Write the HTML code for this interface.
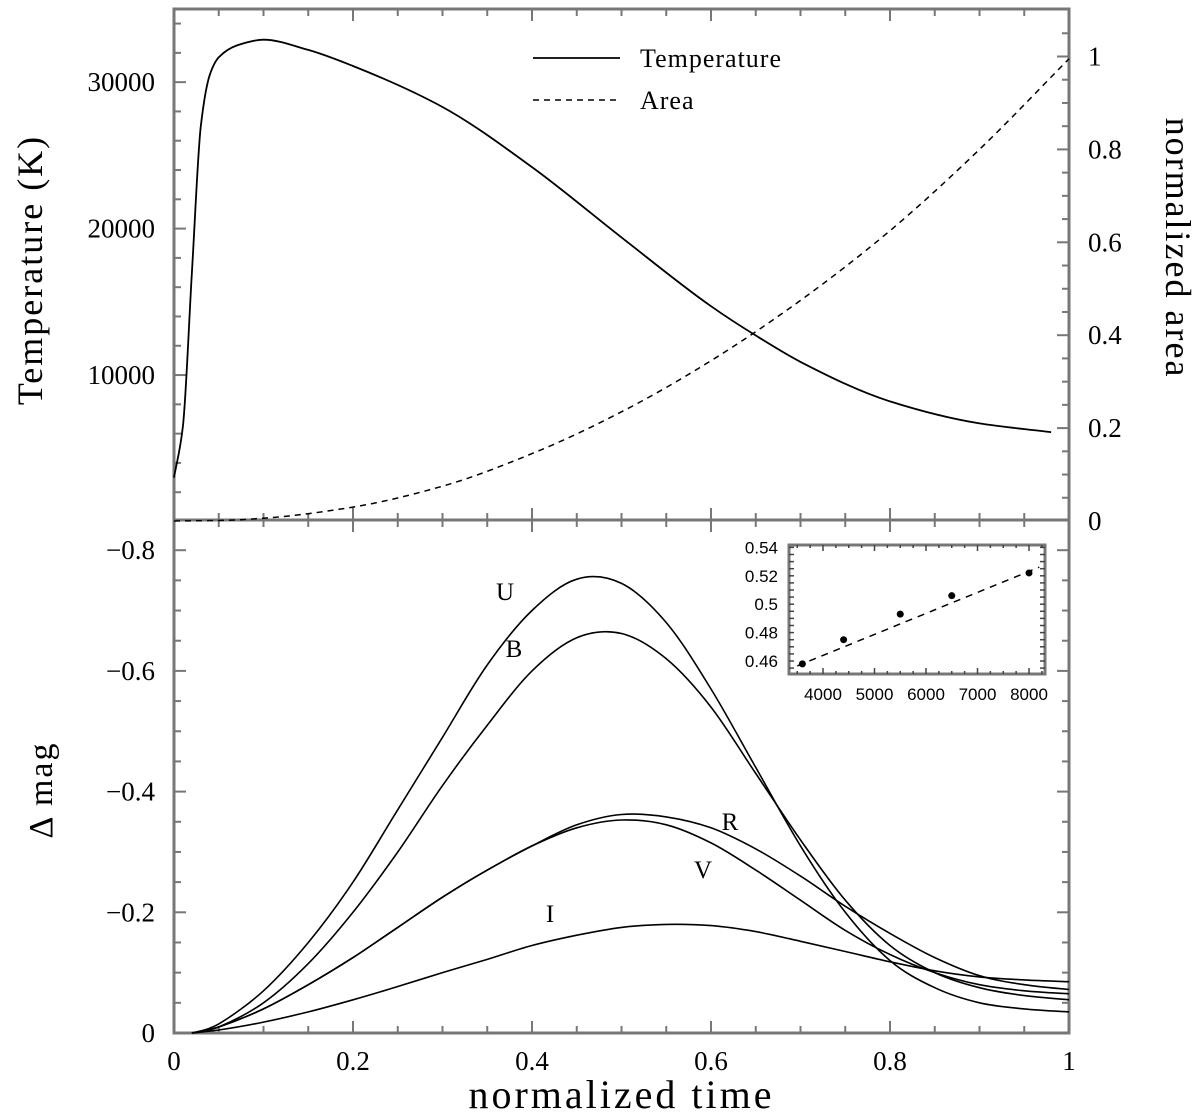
<!DOCTYPE html>
<html><head><meta charset="utf-8"><style>
html,body{margin:0;padding:0;background:#fff;}
svg{display:block;font-family:"Liberation Serif",serif;}
</style></head><body>
<svg id="c" width="1200" height="1115" viewBox="0 0 1200 1115"></svg>
<script>
// ---- data ----
const tempT = [0,0.01,0.02,0.03,0.04,0.05,0.07,0.1,0.15,0.2,0.3,0.4,0.5,0.6,0.65,0.7,0.8,0.9,0.98];
const tempK = [3000,6500,17000,27000,30500,31700,32500,32900,32200,31100,28300,24200,19400,14700,12700,10900,8200,6700,6100];
const areaT = [0,0.05,0.1,0.2,0.3,0.4,0.5,0.6,0.7,0.8,0.9,1.0];
const areaV = [0,0.001,0.006,0.03,0.075,0.145,0.235,0.345,0.475,0.625,0.8,0.995];
const magT = [0.02,0.05,0.1,0.15,0.2,0.25,0.3,0.35,0.4,0.45,0.5,0.55,0.6,0.65,0.7,0.75,0.8,0.85,0.9,0.95,1.0];
const magU = [0,-0.015,-0.07,-0.15,-0.25,-0.37,-0.49,-0.61,-0.7,-0.752,-0.745,-0.68,-0.57,-0.44,-0.31,-0.2,-0.12,-0.075,-0.05,-0.04,-0.035];
const magB = [0,-0.01,-0.05,-0.115,-0.2,-0.3,-0.41,-0.51,-0.6,-0.655,-0.662,-0.62,-0.54,-0.43,-0.32,-0.22,-0.145,-0.1,-0.075,-0.062,-0.055];
const magV = [0,-0.01,-0.04,-0.08,-0.125,-0.175,-0.225,-0.27,-0.31,-0.34,-0.353,-0.345,-0.315,-0.27,-0.22,-0.17,-0.13,-0.1,-0.08,-0.07,-0.065];
const magR = [0,-0.01,-0.04,-0.08,-0.125,-0.175,-0.225,-0.27,-0.31,-0.345,-0.362,-0.358,-0.34,-0.305,-0.26,-0.21,-0.165,-0.125,-0.095,-0.08,-0.072];
const magI = [0,-0.005,-0.018,-0.035,-0.055,-0.077,-0.1,-0.122,-0.145,-0.162,-0.175,-0.18,-0.178,-0.168,-0.152,-0.135,-0.118,-0.103,-0.093,-0.088,-0.085];
const insetX = [3600,4400,5500,6500,8000];
const insetY = [0.458,0.475,0.493,0.506,0.522];
const xTicks = ["0","0.2","0.4","0.6","0.8","1"];
const tTicks = ["10000","20000","30000"];
const aTicks = ["0","0.2","0.4","0.6","0.8","1"];
const mTicks = ["0","−0.2","−0.4","−0.6","−0.8"];
const inXTicks = ["4000","5000","6000","7000","8000"];
const inYTicks = ["0.46","0.48","0.5","0.52","0.54"];

// ---- axes ----
const L=174,R=1069,T=9,M=520,B=1033;
const X=v=>L+v*(R-L);
const YT=v=>521.5-v*0.014645;
const YA=v=>521-v*464.5;
const YM=v=>B-(-v)*603.5;
const IX=v=>823+(v-4000)*0.0515;
const IY=v=>661-(v-0.46)*1420;

const svg=document.getElementById('c');
const NS='http://www.w3.org/2000/svg';
function el(tag,attrs,parent){const e=document.createElementNS(NS,tag);for(const k in attrs)e.setAttribute(k,attrs[k]);(parent||svg).appendChild(e);return e;}
function txt(s,x,y,size,anchor,name,extra){const e=el('text',Object.assign({x:x,y:y,'font-size':size,'text-anchor':anchor||'middle',fill:'#000'},extra||{}));e.textContent=s;


return e;}
// monotone cubic (Fritsch-Carlson) in pixel space
function mono(xs,ys,fx,fy){const px=xs.map(fx),py=ys.map(fy),n=px.length;
 const d=[],m=[];for(let i=0;i<n-1;i++)d.push((py[i+1]-py[i])/(px[i+1]-px[i]));
 m[0]=d[0];m[n-1]=d[n-2];
 for(let i=1;i<n-1;i++){if(d[i-1]*d[i]<=0)m[i]=0;else{const w1=2*(px[i+1]-px[i])+(px[i]-px[i-1]),w2=(px[i+1]-px[i])+2*(px[i]-px[i-1]);m[i]=(w1+w2)/(w1/d[i-1]+w2/d[i]);}}
 let s='M'+px[0].toFixed(1)+','+py[0].toFixed(1);
 for(let i=0;i<n-1;i++){const h=(px[i+1]-px[i])/3;
  s+=' C'+(px[i]+h).toFixed(1)+','+(py[i]+m[i]*h).toFixed(1)+' '+(px[i+1]-h).toFixed(1)+','+(py[i+1]-m[i+1]*h).toFixed(1)+' '+px[i+1].toFixed(1)+','+py[i+1].toFixed(1);}
 return s;}
// Catmull-Rom for uniformly spaced data
function cr(xs,ys,fx,fy){const p=xs.map((x,i)=>[fx(x),fy(ys[i])]);let d='M'+p[0][0].toFixed(1)+','+p[0][1].toFixed(1);
 for(let i=0;i<p.length-1;i++){const p0=p[i-1]||p[i],p1=p[i],p2=p[i+1],p3=p[i+2]||p2;const k=1/6;
 d+=' C'+(p1[0]+(p2[0]-p0[0])*k).toFixed(1)+','+(p1[1]+(p2[1]-p0[1])*k).toFixed(1)+' '+(p2[0]-(p3[0]-p1[0])*k).toFixed(1)+','+(p2[1]-(p3[1]-p1[1])*k).toFixed(1)+' '+p2[0].toFixed(1)+','+p2[1].toFixed(1);}
 return d;}
function poly(xs,ys,fx,fy){return 'M'+xs.map((x,i)=>fx(x).toFixed(1)+','+fy(ys[i]).toFixed(1)).join(' L');}

const g='#777';
let f=el('rect',{x:L,y:T,width:R-L,height:B-T,fill:'none',stroke:g,'stroke-width':3});

let mid=el('line',{x1:L,y1:M,x2:R,y2:M,stroke:g,'stroke-width':3});


for(let i=0;i<=20;i++){const v=i/20,x=X(v),len=i%4===0?12:7;
 el('line',{x1:x,y1:B,x2:x,y2:B-len,stroke:g,'stroke-width':2});
 el('line',{x1:x,y1:M,x2:x,y2:M+len,stroke:g,'stroke-width':2});
 el('line',{x1:x,y1:M,x2:x,y2:M-len,stroke:g,'stroke-width':2});
 el('line',{x1:x,y1:T,x2:x,y2:T+len,stroke:g,'stroke-width':2});}
xTicks.forEach((s,i)=>txt(s,X(i*0.2),1070,27,'middle','x-tick-label'));
txt('normalized time',(L+R)/2,1108,40,'middle','x-axis-title',{'letter-spacing':'3'});

for(let v=2000;v<=34000;v+=2000){const y=YT(v),len=v%10000===0?12:7;el('line',{x1:L,y1:y,x2:L+len,y2:y,stroke:g,'stroke-width':2});}
tTicks.forEach((s,i)=>txt(s,155,YT((i+1)*10000)+9,27,'end','temperature-tick-label'));
txt('Temperature (K)',0,0,36,'middle','temperature-axis-title',{transform:'translate(42,270) rotate(-90)','letter-spacing':'2'});
for(let i=1;i<=21;i++){const v=i*0.05,y=YA(v),len=i%4===0?12:7;if(y<T)continue;el('line',{x1:R,y1:y,x2:R-len,y2:y,stroke:g,'stroke-width':2});}
aTicks.forEach((s,i)=>txt(s,1088,YA(i*0.2)+9,27,'start','area-tick-label'));
txt('normalized area',0,0,36,'middle','area-axis-title',{transform:'translate(1166,248) rotate(90)','letter-spacing':'2'});

for(let i=1;i<=16;i++){const v=-i*0.05,y=YM(v),len=i%4===0?12:7;el('line',{x1:L,y1:y,x2:L+len,y2:y,stroke:g,'stroke-width':2});el('line',{x1:R,y1:y,x2:R-len,y2:y,stroke:g,'stroke-width':2});}
mTicks.forEach((s,i)=>txt(s,155,YM(-i*0.2)+9,27,'end','mag-tick-label'));
txt('Δ mag',0,0,34,'middle','mag-axis-title',{transform:'translate(52,790) rotate(-90)','letter-spacing':'2'});

let p=el('path',{d:mono(tempT,tempK,X,YT),fill:'none',stroke:'#000','stroke-width':1.8});

p=el('path',{d:mono(areaT,areaV,X,YA),fill:'none',stroke:'#000','stroke-width':1.5,'stroke-dasharray':'6,5'});

let l=el('line',{x1:533,y1:58,x2:620,y2:58,stroke:'#000','stroke-width':1.8});

txt('Temperature',640,67,26,'start','legend-temperature',{'letter-spacing':'1'});
l=el('line',{x1:533,y1:100,x2:620,y2:100,stroke:'#000','stroke-width':1.5,'stroke-dasharray':'6,5'});

txt('Area',640,109,26,'start','legend-area',{'letter-spacing':'1'});

[[magU,'u'],[magB,'b'],[magV,'v'],[magR,'r'],[magI,'i']].forEach(([arr,n])=>{
 const q=el('path',{d:cr(magT,arr,X,YM),fill:'none',stroke:'#000','stroke-width':1.6});
 
 });
txt('U',505,600,25,'middle','label-u');
txt('B',514,657,25,'middle','label-b');
txt('R',730,830,25,'middle','label-r');
txt('V',703,878,25,'middle','label-v');
txt('I',550,922,25,'middle','label-i');

const ig=el('g',{});
el('rect',{x:789,y:545,width:256,height:129,fill:'#fff',stroke:g,'stroke-width':3},ig);
for(let v=3500;v<=8300;v+=250){const x=IX(v);if(x<790||x>1044)continue;const len=v%1000===0?6:3;
 el('line',{x1:x,y1:674,x2:x,y2:674-len,stroke:'#444','stroke-width':1.5},ig);el('line',{x1:x,y1:545,x2:x,y2:545+len,stroke:'#444','stroke-width':1.5},ig);}
for(let v=0.45;v<=0.5405;v+=0.005){const y=IY(v);if(y<546||y>673)continue;
 el('line',{x1:789,y1:y,x2:794,y2:y,stroke:'#444','stroke-width':1.5},ig);el('line',{x1:1045,y1:y,x2:1040,y2:y,stroke:'#444','stroke-width':1.5},ig);}
inXTicks.forEach((s,i)=>txt(s,IX(4000+i*1000),700,17,'middle','inset-x-tick-label',{'font-family':'Liberation Sans, sans-serif'}));
inYTicks.forEach((s,i)=>txt(s,778,IY(0.46+i*0.02)+6,17,'end','inset-y-tick-label',{'font-family':'Liberation Sans, sans-serif'}));
const fitX=[3500,8200];
p=el('path',{d:poly(fitX,fitX.map(v=>0.458+(v-3600)*0.0000148),IX,IY),fill:'none',stroke:'#000','stroke-width':1.5,'stroke-dasharray':'7,6'},ig);

insetX.forEach((v,i)=>{const c=el('circle',{cx:IX(v),cy:IY(insetY[i]),r:3.5,fill:'#000'},ig);
 
 });
</script>
</body></html>
